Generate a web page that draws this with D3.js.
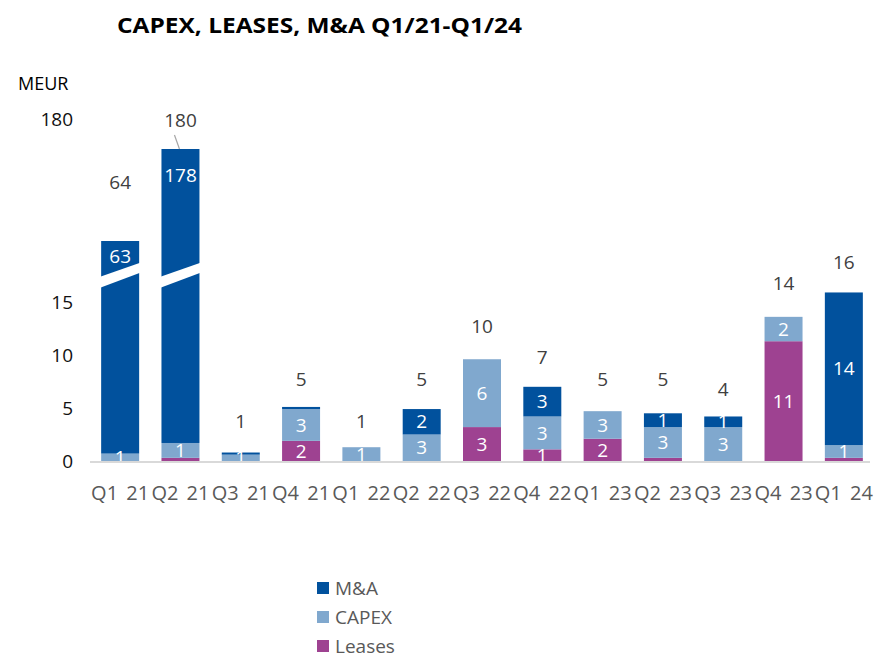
<!DOCTYPE html>
<html>
<head>
<meta charset="utf-8">
<script src="https://cdn.jsdelivr.net/npm/d3@7"></script>
<style>
  body { margin: 0; background: #fff; }
  svg { font-family: "Open Sans", sans-serif; }
</style>
</head>
<body>
<div id="chart"></div>
<script>
// values in MEUR
var quarters = ["Q1 21", "Q2 21", "Q3 21", "Q4 21", "Q1 22", "Q2 22", "Q3 22",
                "Q4 22", "Q1 23", "Q2 23", "Q3 23", "Q4 23", "Q1 24"];
var leases = [0, 0.3, 0, 1.9, 0, 0, 3.2, 1.1, 2.1, 0.3, 0, 11.3, 0.3];
var capex  = [0.7, 1.4, 0.6, 3.0, 1.3, 2.5, 6.4, 3.1, 2.6, 2.9, 3.2, 2.3, 1.2];
var ma     = [63.3, 178.3, 0.2, 0.2, 0, 2.4, 0, 2.8, 0, 1.3, 1.0, 0, 14.4];
var totals = [64, 180, 1, 5, 1, 5, 10, 7, 5, 5, 4, 14, 16];
var yTicks = [0, 5, 10, 15, 180];

var seriesKeys = ["Leases", "CAPEX", "M&A"];
var legendKeys = ["M&A", "CAPEX", "Leases"];
var colors = {"M&A": "#01519d", "CAPEX": "#80a8ce", "Leases": "#9e4291"};

var width = 874, height = 655;

var data = quarters.map(function(q, i) {
  return {q: q, "Leases": leases[i], "CAPEX": capex[i], "M&A": ma[i], total: totals[i]};
});

var svg = d3.select("#chart").append("svg")
    .attr("width", width)
    .attr("height", height);

var x = d3.scaleBand()
    .domain(quarters)
    .range([90, 874])
    .paddingInner(0.37)
    .paddingOuter(0.185);

// broken axis: 0..17 linear, then compressed above the break
var y = d3.scaleLinear()
    .domain([0, 17, 64, 180])
    .range([461, 280.8, 241, 149]);

// axis labels only: 180 sits above the bar top
var yAxisScale = d3.scaleLinear()
    .domain([0, 15, 180])
    .range([461, 302, 119]);

var breakAt = 17;

// title
svg.append("text")
    .attr("x", 117)
    .attr("y", 33)
    .attr("font-size", 22)
    .attr("font-weight", "bold")
    .attr("fill", "#000")
    .attr("textLength", 405)
    .attr("lengthAdjust", "spacingAndGlyphs")
    .text("CAPEX, LEASES, M&A Q1/21-Q1/24");

svg.append("text")
    .attr("x", 18)
    .attr("y", 90)
    .attr("font-size", 18)
    .attr("fill", "#000")
    .text("MEUR");

// y axis
var yAxisG = svg.append("g")
    .attr("transform", "translate(73,0)")
    .call(d3.axisLeft(yAxisScale).tickValues(yTicks).tickSize(0).tickPadding(0));
yAxisG.select(".domain").remove();
yAxisG.selectAll("text")
    .attr("font-family", "Open Sans, sans-serif")
    .attr("font-size", 19)
    .attr("fill", "#111");

// stacked bars
var stacked = d3.stack().keys(seriesKeys)(data);

var layers = svg.append("g").selectAll("g")
  .data(stacked)
  .enter().append("g")
    .attr("fill", function(d) { return colors[d.key]; });

layers.selectAll("rect")
  .data(function(d) { return d; })
  .enter().append("rect")
    .attr("x", function(d) { return x(d.data.q); })
    .attr("width", x.bandwidth())
    .attr("y", function(d) { return y(d[1]); })
    .attr("height", function(d) { return Math.max(0, y(d[0]) - y(d[1])); });

// white slanted stripe on the broken bars
svg.append("g").selectAll("path")
  .data(data.filter(function(d) { return d.total > breakAt; }))
  .enter().append("path")
    .attr("fill", "#fff")
    .attr("d", function(d) {
      var x0 = x(d.q) - 1, x1 = x(d.q) + x.bandwidth() + 1;
      var yb = y(breakAt);
      return "M" + x0 + "," + (yb - 4) + "L" + x1 + "," + (yb - 18) +
             "L" + x1 + "," + (yb - 8) + "L" + x0 + "," + (yb + 7) + "Z";
    });

// segment labels
var segLabels = [];
stacked.forEach(function(s) {
  s.forEach(function(d) {
    var v = d[1] - d[0];
    if (Math.round(v) < 1) return;
    var cy = (y(d[0]) + y(d[1])) / 2;
    if (d[1] > breakAt) cy = Math.min(y(d[1]) + 26, y(breakAt) - 24);
    segLabels.push({q: d.data.q, v: Math.round(v), cy: cy});
  });
});

svg.append("g").selectAll("text")
  .data(segLabels)
  .enter().append("text")
    .attr("x", function(d) { return x(d.q) + x.bandwidth() / 2; })
    .attr("y", function(d) { return d.cy; })
    .attr("dy", "0.35em")
    .attr("text-anchor", "middle")
    .attr("font-size", 19)
    .attr("fill", "#fff")
    .text(function(d) { return d.v; });

// totals above bars
var totalLift = {"Q1 21": 30};
svg.append("g").selectAll("text")
  .data(data)
  .enter().append("text")
    .attr("x", function(d) { return x(d.q) + x.bandwidth() / 2; })
    .attr("y", function(d) { return y(d.total) - 29 - (totalLift[d.q] || 0); })
    .attr("dy", "0.35em")
    .attr("text-anchor", "middle")
    .attr("font-size", 19)
    .attr("fill", "#404040")
    .text(function(d) { return d.total; });

// leader line for the 180 label
var q2 = data[1];
svg.append("line")
    .attr("x1", x(q2.q) + x.bandwidth() / 2 - 6)
    .attr("y1", y(q2.total) - 14)
    .attr("x2", x(q2.q) + x.bandwidth() / 2 - 1)
    .attr("y2", y(q2.total))
    .attr("stroke", "#a6a6a6")
    .attr("stroke-width", 1.2);

// baseline
svg.append("line")
    .attr("x1", 90)
    .attr("x2", 870)
    .attr("y1", y(0) + 1)
    .attr("y2", y(0) + 1)
    .attr("stroke", "#d9d9d9")
    .attr("stroke-width", 2);

// x labels
var xAxisG = svg.append("g")
    .attr("transform", "translate(0," + (y(0) + 24) + ")")
    .call(d3.axisBottom(x).tickSize(0).tickPadding(0));
xAxisG.select(".domain").remove();
xAxisG.selectAll("text")
    .attr("font-family", "Open Sans, sans-serif")
    .attr("font-size", 20)
    .attr("fill", "#595959")
    .attr("dy", "0.35em")
    .attr("y", 8)
    .attr("word-spacing", 3);

// legend
var legend = svg.append("g").selectAll("g")
  .data(legendKeys)
  .enter().append("g")
    .attr("transform", function(d, i) { return "translate(317," + (588 + i * 29) + ")"; });

legend.append("rect")
    .attr("y", -6)
    .attr("width", 12)
    .attr("height", 12)
    .attr("fill", function(d) { return colors[d]; });

legend.append("text")
    .attr("x", 18)
    .attr("dy", "0.35em")
    .attr("font-size", 19)
    .attr("fill", "#595959")
    .text(function(d) { return d; });
</script>
</body>
</html>
